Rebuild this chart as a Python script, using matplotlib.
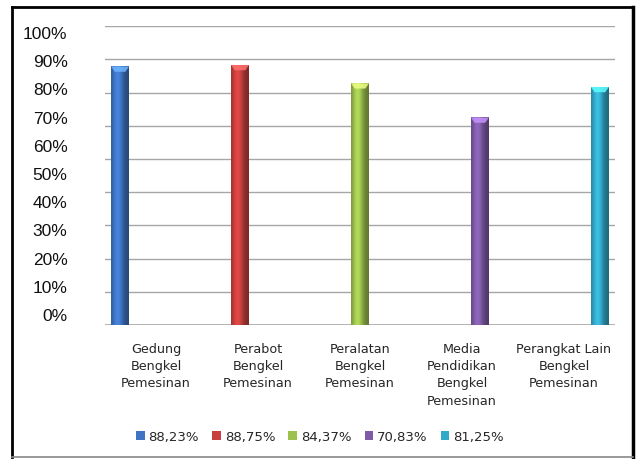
import numpy as np
import matplotlib
matplotlib.use("Agg")
import matplotlib.pyplot as plt
from matplotlib.colors import to_rgb
from matplotlib.lines import Line2D
from matplotlib.patches import Polygon, Patch

categories = ["Gedung\nBengkel\nPemesinan", "Perabot\nBengkel\nPemesinan",
              "Peralatan\nBengkel\nPemesinan", "Media\nPendidikan\nBengkel\nPemesinan",
              "Perangkat Lain\nBengkel\nPemesinan"]
series_labels = ["88,23%", "88,75%", "84,37%", "70,83%", "81,25%"]
# bar heights
values = [0.8823, 0.8875, 0.825, 0.7083, 0.8125]
colors = ["#3F74C4", "#C8403E", "#9DC14E", "#7F5BA8", "#33A9CA"]
ytick_labels = ["0%", "10%", "20%", "30%", "40%", "50%", "60%", "70%", "80%", "90%", "100%"]

fig = plt.figure(figsize=(6.39, 4.59), dpi=100)
W, H = 639, 459
ax = fig.add_axes([105 / W, 1 - 325 / H, 510 / W, 299 / H])
ax.set_xlim(-0.5, 4.5)
ax.set_ylim(0, 1.0205)

# gridlines (as drawn in the reference, not aligned with labels)
for k in range(1, 10):
    ax.axhline(k * 0.1133, color="#A6A6A6", lw=1.0, zorder=0)
ax.axhline(0, color="#A6A6A6", lw=1.2, zorder=1)

bw = 0.176
n = len(values)
for i, (v, c) in enumerate(zip(values, colors)):
    x = i + (i - (n - 1) / 2) * bw
    bars = ax.bar(x, v, width=bw, color=c, zorder=2, edgecolor="none")
    patch = bars[0]
    base = np.array(to_rgb(c))
    t = np.linspace(0, 1, 64)
    shade = 0.72 + 0.45 * np.exp(-((t - 0.38) / 0.3) ** 2) - 0.1 * t
    img = np.clip(base[None, :] * shade[:, None], 0, 1)[None, :, :]
    x0 = x - bw / 2
    im = ax.imshow(img, extent=[x0, x0 + bw, 0, v], aspect="auto", zorder=3,
                   interpolation="bilinear")
    im.set_clip_path(patch)
    light = np.clip(base * 1.35 + 0.1, 0, 1)
    cap = Polygon([[x0, v], [x0 + bw, v], [x0 + bw * 0.8, v - 0.018],
                   [x0 + bw * 0.2, v - 0.018]], closed=True,
                  facecolor=light, edgecolor="none", zorder=4, alpha=0.85)
    ax.add_patch(cap)

ax.set_xticks(range(n))
ax.set_xticklabels(categories, fontsize=9.2, color="#262626", linespacing=1.42,
                   family="DejaVu Sans", va="top")
ax.tick_params(axis="x", length=0, pad=13)

ypos = [(10 + 28.2 * k) / 293 for k in range(11)]
ax.set_yticks(ypos)
ax.set_yticklabels(ytick_labels, fontsize=12.5, color="#111111", family="Liberation Sans")
ax.tick_params(axis="y", length=0, pad=27)

for s in ax.spines.values():
    s.set_visible(False)

handles = [Patch(facecolor=c, edgecolor="none") for c in colors]
fig.legend(handles, series_labels, loc="center", ncol=5,
           bbox_to_anchor=(320 / W, 1 - 437 / H), frameon=False,
           prop={"family": "DejaVu Sans", "size": 9.5},
           handlelength=0.65, handleheight=0.65, handletextpad=0.3,
           columnspacing=1.0, labelcolor="#262626")

# outer frame
fig.add_artist(Line2D([12 / W, 12 / W], [1 - 7 / H, 1 - 457 / H], color="black", lw=2,
                      transform=fig.transFigure))
fig.add_artist(Line2D([12 / W, 633 / W], [1 - 7 / H, 1 - 7 / H], color="black", lw=2,
                      transform=fig.transFigure))
fig.add_artist(Line2D([633 / W, 633 / W], [1 - 7 / H, 1 - 457 / H], color="black", lw=2.5,
                      transform=fig.transFigure))
fig.add_artist(Line2D([12 / W, 633 / W], [1 - 457 / H, 1 - 457 / H], color="#888888", lw=1.2,
                      transform=fig.transFigure))

fig.savefig("out.png", dpi=100)
